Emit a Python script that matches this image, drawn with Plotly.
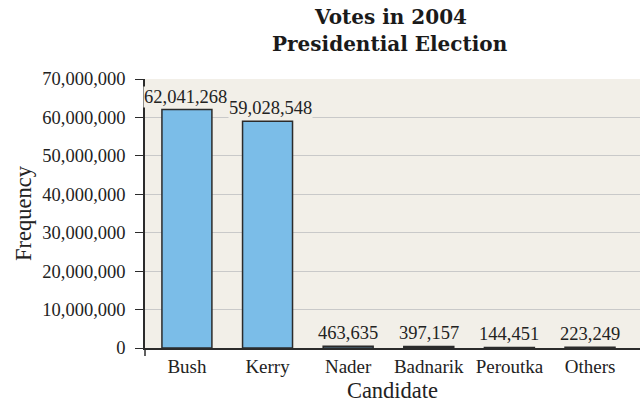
import plotly.graph_objects as go

candidates = ["Bush", "Kerry", "Nader", "Badnarik", "Peroutka", "Others"]
votes = [62041268, 59028548, 463635, 397157, 144451, 223249]
y_ticks = list(range(0, 70000001, 10000000))
y_tick_labels = [f"{v:,}" for v in y_ticks]
title_lines = ["Votes in 2004", "Presidential Election"]

serif = "Liberation Serif, Times New Roman, serif"
title_font = "DejaVu Serif, serif"
plot_bg = "#f2efe8"
ink = "#222222"

# plot area geometry in pixels (used to place the title lines)
W, H = 640, 406
ML, MR, MT, MB = 145, 0, 79, 58
plot_h = H - MT - MB

fig = go.Figure(
    go.Bar(
        x=candidates,
        y=votes,
        width=0.62,
        marker=dict(color="#7bbde8", line=dict(color="#2b2b2b", width=1.5)),
        hoverinfo="x+y",
    )
)

# value labels above each bar, with a background that hides the gridlines;
# the first two are nudged apart so their boxes do not overlap
label_xshift = [-1, 3, 0, 0, 0, 0]
for name, v, dx in zip(candidates, votes, label_xshift):
    fig.add_annotation(
        x=name, y=v, xref="x", yref="y",
        text=f"{v:,}",
        showarrow=False,
        yanchor="bottom",
        yshift=2,
        xshift=dx,
        bgcolor=plot_bg,
        borderpad=0,
        font=dict(family=serif, size=18.5, color=ink),
    )

# two-line chart title
for line, y_px in zip(title_lines, [17, 44]):
    fig.add_annotation(
        x=0.495, xref="paper",
        y=(H - MB - y_px) / plot_h, yref="paper",
        text=f"<b>{line}</b>",
        showarrow=False,
        xanchor="center", yanchor="middle",
        font=dict(family=title_font, size=20, color="#1a1a1a"),
    )

fig.update_layout(
    width=W,
    height=H,
    margin=dict(l=ML, r=MR, t=MT, b=MB),
    paper_bgcolor="white",
    plot_bgcolor=plot_bg,
    showlegend=False,
    xaxis=dict(
        range=[-0.52, 5.62],
        showline=True,
        linecolor="#2b2b2b",
        linewidth=1.5,
        ticks="",
        tickfont=dict(family=serif, size=19, color=ink),
        title=dict(text="Candidate", font=dict(family=serif, size=22.5, color=ink), standoff=7),
        showgrid=False,
    ),
    yaxis=dict(
        range=[0, 70000000],
        tickvals=y_ticks,
        ticktext=y_tick_labels,
        showline=True,
        linecolor="#2b2b2b",
        linewidth=1.5,
        ticks="outside",
        ticklen=8,
        tickwidth=1.3,
        tickcolor="#2b2b2b",
        ticklabelstandoff=6,
        showgrid=True,
        gridcolor="#c9c9c9",
        gridwidth=1.3,
        zeroline=False,
        tickfont=dict(family=serif, size=18.5, color=ink),
        title=dict(text="Frequency", font=dict(family=serif, size=22.5, color=ink), standoff=4),
    ),
)

# short downward extension of the vertical axis below the baseline
fig.add_shape(
    type="line", xref="paper", yref="paper",
    x0=0, x1=0, y0=0, y1=-8 / plot_h,
    line=dict(color="#2b2b2b", width=1.5),
)

fig.write_html("out.html")
